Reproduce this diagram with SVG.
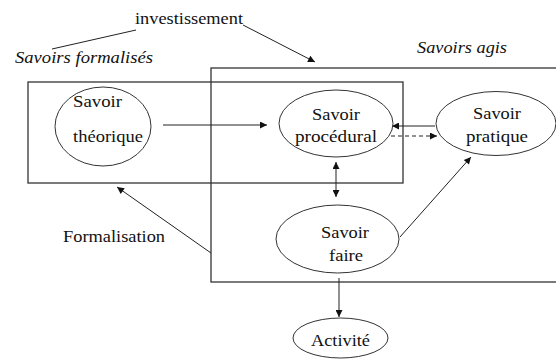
<svg xmlns="http://www.w3.org/2000/svg" width="556" height="360" viewBox="0 0 556 360">
<defs>
<marker id="ah" viewBox="0 0 10 10" refX="10" refY="5" markerWidth="9" markerHeight="7" markerUnits="userSpaceOnUse" orient="auto-start-reverse">
<path d="M0,0 L10,5 L0,10 Z" fill="#111"/>
</marker>
</defs>
<style>
text{font-size:17px;fill:#111}
.i{font-style:italic}
.box{fill:none;stroke:#333;stroke-width:1.3}
.el{fill:#fff;stroke:#333;stroke-width:1}
.ln{fill:none;stroke:#222;stroke-width:1}
</style>
<rect width="556" height="360" fill="#fff"/>
<g font-family="Liberation Serif, Times New Roman, Tinos, Noto Serif, DejaVu Serif, FreeSerif, serif">
<g id="containers">
<rect class="box" x="211" y="68" width="360" height="214"/>
<rect class="box" x="28" y="82" width="375" height="101"/>
</g>
<g id="labels">
<text x="135" y="24" textLength="108" lengthAdjust="spacingAndGlyphs">investissement</text>
<text class="i" x="15" y="63" textLength="138" lengthAdjust="spacingAndGlyphs">Savoirs formalisés</text>
<text class="i" x="417" y="53" textLength="90" lengthAdjust="spacingAndGlyphs">Savoirs agis</text>
<text x="63" y="242" textLength="102" lengthAdjust="spacingAndGlyphs">Formalisation</text>
</g>
<g id="connectors">
<line class="ln" x1="52" y1="49" x2="136" y2="30"/>
<line class="ln" x1="243" y1="25" x2="315" y2="62" marker-end="url(#ah)"/>
<line class="ln" x1="163" y1="125" x2="267" y2="125" marker-end="url(#ah)"/>
<line class="ln" x1="435" y1="126" x2="392" y2="126" marker-end="url(#ah)"/>
<line class="ln" x1="391" y1="136" x2="437" y2="136" stroke-dasharray="4,3" marker-end="url(#ah)"/>
<line class="ln" x1="336" y1="162" x2="336" y2="197" marker-start="url(#ah)" marker-end="url(#ah)"/>
<line class="ln" x1="400" y1="237" x2="471" y2="157" marker-end="url(#ah)"/>
<line class="ln" x1="339" y1="278" x2="339" y2="317" marker-end="url(#ah)"/>
<line class="ln" x1="211" y1="253" x2="117" y2="187" marker-end="url(#ah)"/>
</g>
<g id="theorique">
<ellipse class="el" cx="103" cy="126.5" rx="48" ry="39.5"/>
<text x="73" y="107" textLength="49" lengthAdjust="spacingAndGlyphs">Savoir</text>
<text x="73" y="142" textLength="70" lengthAdjust="spacingAndGlyphs">théorique</text>
</g>
<g id="procedural">
<ellipse class="el" cx="336" cy="123.5" rx="57" ry="33.5"/>
<text x="336" y="119.5" text-anchor="middle" textLength="48" lengthAdjust="spacingAndGlyphs">Savoir</text>
<text x="336" y="142" text-anchor="middle" textLength="82" lengthAdjust="spacingAndGlyphs">procédural</text>
</g>
<g id="pratique">
<ellipse class="el" cx="496" cy="123.5" rx="60" ry="32"/>
<text x="497" y="119" text-anchor="middle" textLength="48" lengthAdjust="spacingAndGlyphs">Savoir</text>
<text x="497" y="142" text-anchor="middle" textLength="62" lengthAdjust="spacingAndGlyphs">pratique</text>
</g>
<g id="faire">
<ellipse class="el" cx="337.5" cy="239" rx="61.5" ry="34"/>
<text x="345" y="238" text-anchor="middle" textLength="48" lengthAdjust="spacingAndGlyphs">Savoir</text>
<text x="346" y="261" text-anchor="middle" textLength="34" lengthAdjust="spacingAndGlyphs">faire</text>
</g>
<g id="activite">
<ellipse class="el" cx="340.5" cy="338" rx="47.5" ry="20"/>
<text x="340.5" y="346" text-anchor="middle" textLength="59" lengthAdjust="spacingAndGlyphs">Activité</text>
</g>
</g>
</svg>
